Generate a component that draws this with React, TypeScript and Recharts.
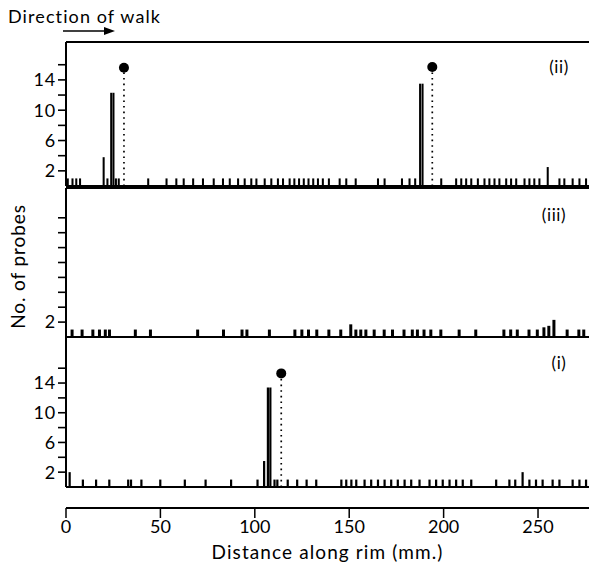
import React from "react";
import {
  ComposedChart, Bar, XAxis, YAxis, ReferenceLine, ReferenceDot, Label,
} from "recharts";

const FONT = "Lato, 'DejaVu Sans', sans-serif";
const X_MAX = 277;
const X_TICKS = [0, 50, 100, 150, 200, 250];
const Y_TICKS = [2, 4, 6, 8, 10, 12, 14, 16];

// panel (ii): probe positions (mm along rim) and number of probes
const II_MM = [
  1, 3.5, 5.5, 7.5, 20, 22, 24, 25.2, 26.5, 28,
  43.6, 53.3, 58.5, 62.4, 67.4, 72.6, 78.3, 83.2, 86.8, 91.2, 94.7, 98.2, 100.9,
  105.3, 108.8, 112.3, 115, 118.5, 121, 123.5, 126, 128.5, 131, 133.5, 136.1, 139.3,
  145, 148.5, 153.5, 165.3, 168.8, 178, 182, 185, 187.6, 188.9,
  198.8, 206.7, 209.4, 212, 214.7, 218.2, 221.7, 224.3, 227, 229.6, 233.2, 235.8,
  238.5, 242.9, 245.5, 248.1, 250.8, 255.2, 261.4, 264, 268.4, 272, 275.5,
];
const II_COUNT = [
  1, 1, 1, 1, 3.8, 1, 12.3, 12.3, 1, 1,
  1, 1, 1, 1, 1, 1, 1, 1, 1, 1, 1, 1, 1,
  1, 1, 1, 1, 1, 1, 1, 1, 1, 1, 1, 1, 1,
  1, 1, 1, 1, 1, 1, 1, 1, 13.5, 13.5,
  1, 1, 1, 1, 1, 1, 1, 1, 1, 1, 1, 1,
  1, 1, 1, 1, 1, 2.5, 1, 1, 1, 1, 1,
];
const II_PEAK_MM = [30.7, 194];
const II_PEAK_N = [15.6, 15.7];

// panel (iii)
const III_MM = [
  3, 8.3, 14, 17.5, 20.6, 22.8, 36.5, 44.5, 69.5, 83.2, 93, 95.6, 107.5,
  121, 124.7, 128.2, 132.6, 139, 145.3, 150.6, 153.3, 155.9, 158.6, 163, 168.3,
  172.7, 178.8, 183.2, 185.9, 189.4, 193, 198.3, 208, 216.8, 231.7, 235.3, 238.8,
  245, 249.4, 252.9, 255.5, 258.2, 265.2, 271.4, 274,
];
const III_COUNT = [
  1, 1, 1, 1, 1, 1, 1, 1, 1, 1, 1, 1, 1,
  1, 1, 1, 1, 1, 1, 1.7, 1, 1, 1, 1, 1,
  1, 1, 1, 1, 1, 1, 1, 1, 1, 1, 1, 1,
  1, 1, 1.3, 1.5, 2.3, 1, 1, 1,
];

// panel (i)
const I_MM = [
  2, 9, 16, 23, 33, 34.5, 40, 50, 63, 74, 87.5, 101.5, 105, 107, 108.3, 110.5, 112,
  117.5, 122.5, 127.5, 132.6, 145.9, 148.5, 151.2, 153.8, 158.2, 161.7, 165.3,
  168.8, 172.3, 175.8, 179.4, 182.9, 187.3, 192.6, 196.1, 199.6, 203.2, 206.7,
  210.2, 214.7, 227.9, 234.9, 238, 241.9, 245.5, 249, 252.5, 257.8, 261.4, 268.4,
  272, 275.5,
];
const I_COUNT = [
  2, 1, 1, 1, 1, 1, 1, 1, 1, 1, 1, 1, 3.5, 13.4, 13.4, 1, 1,
  1, 1, 1, 1, 1, 1, 1, 1, 1, 1, 1,
  1, 1, 1, 1, 1, 1, 1, 1, 1, 1, 1,
  1, 1, 1, 1, 1, 2, 1, 1, 1, 1, 1, 1,
  1, 1,
];
const I_PEAK_MM = [114];
const I_PEAK_N = [15.3];

type PanelProps = {
  mm: number[];
  counts: number[];
  peakMm?: number[];
  peakN?: number[];
  yMax: number;
  top: number;
  plotH: number;
  labelled: number[];
  tag: string;
  tagPos: [number, number];
  yTitle?: string;
  bottomAxis?: boolean;
};

function Panel(p: PanelProps) {
  const data = p.mm.map((x, i) => ({ x, n: p.counts[i] }));
  const frameH = p.bottomAxis ? 21 : 2;
  const scaleH = p.bottomAxis ? 60 : 0;
  const peaks = (p.peakMm || []).map((x, i) => ({ x, y: (p.peakN || [])[i] }));

  return (
    <div style={{ position: "absolute", left: 0, top: p.top - 2 }}>
      <ComposedChart
        width={589}
        height={2 + p.plotH + frameH + scaleH}
        data={data}
        margin={{ top: 2, right: 0, bottom: 0, left: 0 }}
      >
        <XAxis
          xAxisId="f"
          dataKey="x"
          type="number"
          domain={[0, X_MAX]}
          allowDataOverflow
          tick={false}
          tickLine={false}
          height={frameH}
          axisLine={{ stroke: "#000", strokeWidth: 2 }}
        />
        {p.bottomAxis && (
          <XAxis
            xAxisId="s"
            dataKey="x"
            type="number"
            domain={[0, X_MAX]}
            allowDataOverflow
            ticks={X_TICKS}
            height={scaleH}
            tickSize={10}
            tickMargin={2}
            axisLine={{ stroke: "#000", strokeWidth: 2 }}
            tickLine={{ stroke: "#000", strokeWidth: 1.5 }}
            tick={{ fill: "#000", fontSize: 18, fontFamily: FONT }}
          >
            <Label
              value="Distance along rim (mm.)"
              position="insideBottom"
              offset={9}
              style={{ fill: "#000", fontSize: 19, fontFamily: FONT, letterSpacing: "1.1px" }}
            />
          </XAxis>
        )}
        <YAxis
          type="number"
          domain={[0, p.yMax]}
          allowDataOverflow
          ticks={Y_TICKS}
          interval={0}
          tickFormatter={(v: number) => (p.labelled.includes(v) ? String(v) : "")}
          width={66}
          tickSize={8}
          tickMargin={2}
          axisLine={{ stroke: "#000", strokeWidth: 2 }}
          tickLine={{ stroke: "#000", strokeWidth: 1.6 }}
          tick={{ fill: "#000", fontSize: 18, fontFamily: FONT, letterSpacing: "0.8px" }}
        >
          {p.yTitle && (
            <Label
              content={(lp: any) => {
                const vb = lp.viewBox || { y: 0, height: 0 };
                const cy = vb.y + vb.height / 2 + 4;
                return (
                  <text
                    x={25}
                    y={cy}
                    transform={`rotate(-90, 25, ${cy})`}
                    textAnchor="middle"
                    fill="#000"
                    fontSize={19}
                    fontFamily={FONT}
                    style={{ letterSpacing: "0.9px" }}
                  >
                    {p.yTitle}
                  </text>
                );
              }}
            />
          )}
        </YAxis>
        <ReferenceLine xAxisId="f" y={p.yMax} stroke="#000" strokeWidth={2} ifOverflow="visible" />
        <Bar xAxisId="f" dataKey="n" fill="#000" barSize={3} isAnimationActive={false} />
        {peaks.map((pk) => (
          <ReferenceLine
            key={`l${pk.x}`}
            xAxisId="f"
            segment={[{ x: pk.x, y: 0 }, { x: pk.x, y: pk.y }]}
            stroke="#000"
            strokeWidth={1.7}
            strokeDasharray="1.6 4"
          />
        ))}
        {peaks.map((pk) => (
          <ReferenceDot
            key={`d${pk.x}`}
            xAxisId="f"
            x={pk.x}
            y={pk.y}
            r={5}
            fill="#000"
            stroke="none"
          />
        ))}
      </ComposedChart>
      <span
        style={{
          position: "absolute",
          left: p.tagPos[0],
          top: p.tagPos[1] - p.top + 2,
          transform: "translate(-50%, -50%)",
          fontFamily: FONT,
          fontSize: 17,
          letterSpacing: "0.6px",
          whiteSpace: "nowrap",
        }}
      >
        {p.tag}
      </span>
    </div>
  );
}

export default function App() {
  return (
    <div
      style={{
        position: "absolute",
        left: 0,
        top: 0,
        width: 589,
        height: 570,
        background: "#fff",
        fontFamily: FONT,
        overflow: "hidden",
      }}
    >
      <div
        style={{
          position: "absolute",
          left: 8,
          top: 6,
          fontSize: 18,
          lineHeight: "20px",
          letterSpacing: "1.1px",
          whiteSpace: "nowrap",
        }}
      >
        Direction of walk
      </div>
      <svg style={{ position: "absolute", left: 0, top: 0 }} width={589} height={40}>
        <line x1={63} y1={31} x2={108} y2={31} stroke="#000" strokeWidth={1.6} />
        <path d="M104,27 L115,31 L104,35 Z" fill="#000" />
      </svg>
      <Panel
        mm={II_MM}
        counts={II_COUNT}
        peakMm={II_PEAK_MM}
        peakN={II_PEAK_N}
        yMax={19}
        top={42}
        plotH={144}
        labelled={[2, 6, 10, 14]}
        tag="(ii)"
        tagPos={[559, 66]}
      />
      <Panel
        mm={III_MM}
        counts={III_COUNT}
        yMax={20}
        top={188}
        plotH={149}
        labelled={[2]}
        tag="(iii)"
        tagPos={[554, 214]}
        yTitle="No. of probes"
      />
      <Panel
        mm={I_MM}
        counts={I_COUNT}
        peakMm={I_PEAK_MM}
        peakN={I_PEAK_N}
        yMax={20.2}
        top={337}
        plotH={150}
        labelled={[2, 6, 10, 14]}
        tag="(i)"
        tagPos={[559, 362]}
        bottomAxis
      />
    </div>
  );
}
